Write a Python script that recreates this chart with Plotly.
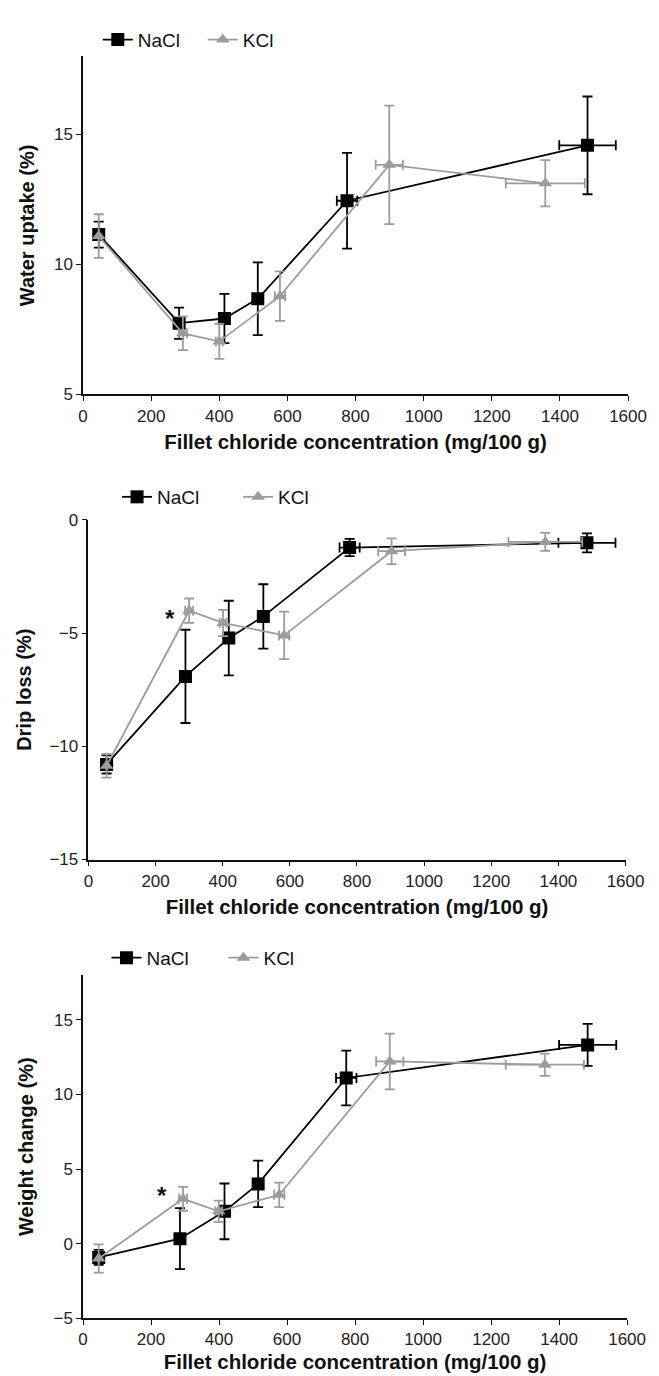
import plotly.graph_objects as go

# ---------------- data ----------------
# Panel 1: Water uptake (%)
wu_nacl_x = [46, 282, 415, 513, 775, 1481]
wu_nacl_y = [11.15, 7.74, 7.92, 8.68, 12.45, 14.58]
wu_nacl_ey = [0.5, 0.6, 0.95, 1.4, 1.84, 1.88]
wu_nacl_ex = [0, 0, 0, 0, 30, 83]
wu_kcl_x = [46, 293, 400, 578, 899, 1357]
wu_kcl_y = [11.09, 7.35, 7.04, 8.78, 13.83, 13.12]
wu_kcl_ey = [0.84, 0.65, 0.67, 0.95, 2.28, 0.89]
wu_kcl_ex = [0, 12, 10, 15, 40, 116]

# Panel 2: Drip loss (%)
dl_nacl_x = [54, 289, 418, 521, 778, 1485]
dl_nacl_y = [-10.8, -6.91, -5.22, -4.26, -1.22, -1.01]
dl_nacl_ey = [0.4, 2.06, 1.65, 1.42, 0.38, 0.42]
dl_nacl_ex = [0, 0, 0, 0, 30, 85]
dl_kcl_x = [54, 300, 401, 583, 903, 1361]
dl_kcl_y = [-10.86, -4.01, -4.55, -5.10, -1.38, -0.97]
dl_kcl_ey = [0.52, 0.54, 0.58, 1.05, 0.57, 0.40]
dl_kcl_ex = [0, 12, 10, 15, 40, 110]

# Panel 3: Weight change (%)
wc_nacl_x = [46, 285, 416, 515, 774, 1484]
wc_nacl_y = [-0.93, 0.33, 2.16, 4.0, 11.11, 13.33]
wc_nacl_ey = [0.5, 2.05, 1.87, 1.56, 1.84, 1.41]
wc_nacl_ex = [0, 0, 0, 0, 30, 84]
wc_kcl_x = [46, 294, 399, 577, 902, 1358]
wc_kcl_y = [-1.0, 3.0, 2.16, 3.27, 12.22, 12.0]
wc_kcl_ey = [0.95, 0.8, 0.72, 0.82, 1.87, 0.75]
wc_kcl_ex = [0, 12, 10, 15, 40, 115]

# significance markers (x, y)
star_dl = (243, -4.35)
star_wc = (232, 3.2)

x_ticks = [0, 200, 400, 600, 800, 1000, 1200, 1400, 1600]
wu_ticks = [5, 10, 15]
dl_ticks = [-15, -10, -5, 0]
wc_ticks = [-5, 0, 5, 10, 15]

x_title = "Fillet chloride concentration (mg/100 g)"
y_titles = ["Water uptake (%)", "Drip loss (%)", "Weight change (%)"]

# ---------------- style ----------------
W, H = 659, 1376
FONT = "Liberation Sans, Arial, sans-serif"
BLACK = "#000000"
GRAY = "#9c9c9c"

def px_x(p):
    return p / W

def px_y(p):
    return 1 - p / H

panels = [
    dict(nx=wu_nacl_x, ny=wu_nacl_y, ney=wu_nacl_ey, nex=wu_nacl_ex,
         kx=wu_kcl_x, ky=wu_kcl_y, key=wu_kcl_ey, kex=wu_kcl_ex,
         xdom=(72.7, 638.3), ydom=(40, 382.7), yr=[5, 18], yt=wu_ticks,
         leg=(88, 23), ew=60, ystand=14, xstand=10),
    dict(nx=dl_nacl_x, ny=dl_nacl_y, ney=dl_nacl_ey, nex=dl_nacl_ex,
         kx=dl_kcl_x, ky=dl_kcl_y, key=dl_kcl_ey, kex=dl_kcl_ex,
         xdom=(78.3, 635.7), ydom=(510, 854.3), yr=[-15, 0], yt=dl_ticks,
         leg=(108, 486.7), ew=76, ystand=12, xstand=10),
    dict(nx=wc_nacl_x, ny=wc_nacl_y, ney=wc_nacl_ey, nex=wc_nacl_ex,
         kx=wc_kcl_x, ky=wc_kcl_y, key=wc_kcl_ey, kex=wc_kcl_ex,
         xdom=(72.7, 637.3), ydom=(971.7, 1319.3), yr=[-5, 18], yt=wc_ticks,
         leg=(97, 954), ew=72, ystand=14, xstand=6),
]

fig = go.Figure()
layout = dict(
    width=W, height=H,
    margin=dict(l=0, r=0, t=0, b=0),
    paper_bgcolor="white", plot_bgcolor="white",
    font=dict(family=FONT, color="#111111"),
    showlegend=True,
)

for i, p in enumerate(panels):
    n = i + 1
    xa = "x" if n == 1 else f"x{n}"
    ya = "y" if n == 1 else f"y{n}"
    lg = "legend" if n == 1 else f"legend{n}"
    fig.add_trace(go.Scatter(
        x=p["nx"], y=p["ny"], mode="lines+markers", name="NaCl",
        xaxis=xa, yaxis=ya, legend=lg,
        line=dict(color=BLACK, width=1.8),
        marker=dict(symbol="square", size=13, color=BLACK),
        error_y=dict(type="data", array=p["ney"], color=BLACK, thickness=1.8, width=5),
        error_x=dict(type="data", array=p["nex"], color=BLACK, thickness=1.8, width=5),
    ))
    fig.add_trace(go.Scatter(
        x=p["kx"], y=p["ky"], mode="lines+markers", name="KCl",
        xaxis=xa, yaxis=ya, legend=lg,
        line=dict(color=GRAY, width=1.8),
        marker=dict(symbol="triangle-up", size=12, color=GRAY),
        error_y=dict(type="data", array=p["key"], color=GRAY, thickness=1.8, width=5),
        error_x=dict(type="data", array=p["kex"], color=GRAY, thickness=1.8, width=5),
    ))
    axis_common = dict(
        showline=True, linecolor="#111111", linewidth=1.6,
        ticks="outside", ticklen=5, tickwidth=1.4, tickcolor="#111111",
        showgrid=False, zeroline=False,
        tickfont=dict(family=FONT, size=17, color="#222222"),
    )
    xkey = "xaxis" if n == 1 else f"xaxis{n}"
    ykey = "yaxis" if n == 1 else f"yaxis{n}"
    layout[xkey] = dict(
        axis_common, domain=[px_x(p["xdom"][0]), px_x(p["xdom"][1])],
        range=[0, 1600], tickvals=x_ticks, anchor=ya,
        title=dict(text=f"<b>{x_title}</b>", font=dict(family=FONT, size=20.5, color="#111111"), standoff=p["xstand"]),
    )
    layout[ykey] = dict(
        axis_common, domain=[px_y(p["ydom"][1]), px_y(p["ydom"][0])],
        range=p["yr"], tickvals=p["yt"], anchor=xa,
        title=dict(text=f"<b>{y_titles[i]}</b>", font=dict(family=FONT, size=20, color="#111111"), standoff=p["ystand"]),
    )
    layout[lg] = dict(
        orientation="h", x=px_x(p["leg"][0]), y=px_y(p["leg"][1]),
        xanchor="left", yanchor="middle", bgcolor="rgba(0,0,0,0)",
        font=dict(family=FONT, size=19, color="#111111"),
        entrywidth=p["ew"], entrywidthmode="pixels", itemwidth=30,
    )

fig.update_layout(**layout)

for (sx, sy), n in [(star_dl, 2), (star_wc, 3)]:
    fig.add_annotation(x=sx, y=sy, xref=f"x{n}", yref=f"y{n}", text="<b>*</b>",
                       showarrow=False, font=dict(family=FONT, size=24, color="#111111"))

fig.write_html("out.html")
